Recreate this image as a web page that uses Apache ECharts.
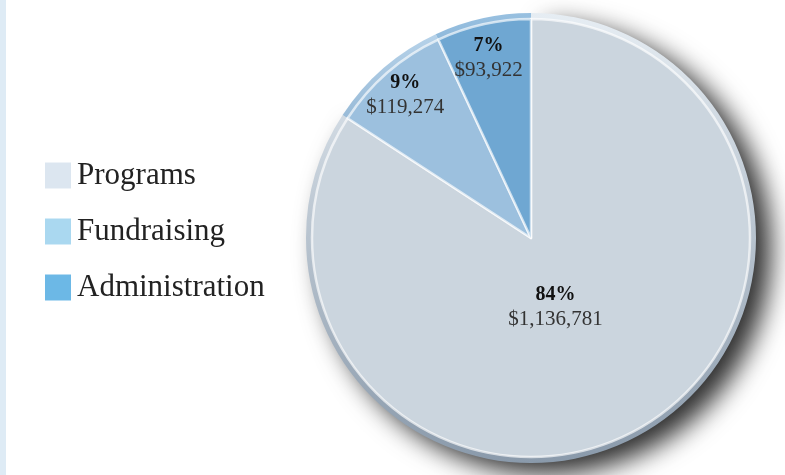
<!DOCTYPE html>
<html>
<head>
<meta charset="utf-8">
<script src="https://cdn.jsdelivr.net/npm/echarts@6/dist/echarts.min.js"></script>
<style>
html,body{margin:0;padding:0;background:#fff;}
#main{width:785px;height:475px;}
</style>
</head>
<body>
<div id="main"></div>
<script>
const categories = ['Programs', 'Fundraising', 'Administration'];
const amounts = [1136781, 119274, 93922];
const faceColors = ['#cbd5de', '#9cc0de', '#6fa7d2'];
const legendColors = ['#dce6f0', '#aad8f0', '#6cb8e6'];
const rimTop = ['#e6edf3', '#b6d2e9', '#98c0e0'];
const rimBottom = ['#8a9aab', '#6f9abf', '#4f88b8'];

const chart = echarts.init(document.getElementById('main'), null, {renderer: 'canvas'});

const labelShift = [[-29, -30], [-52, -58], [-18, -70]];
const C = [531, 238];

const option = {
  backgroundColor: '#ffffff',
  animation: false,
  graphic: [{
    type: 'rect', left: 0, top: 0,
    shape: {width: 6, height: 475},
    style: {fill: '#deebf5'}, silent: true
  }],
  legend: {
    orient: 'vertical',
    left: 40,
    top: 155,
    itemWidth: 26,
    itemHeight: 26,
    itemGap: 25,
    icon: 'rect',
    selectedMode: false,
    textStyle: {fontFamily: 'Liberation Serif', fontSize: 31, color: '#222', lineHeight: 26, padding: [0, 0, 0, 1]},
    data: categories.map((n, i) => ({name: n, itemStyle: {color: legendColors[i], borderWidth: 0}}))
  },
  series: [
    {
      type: 'pie',
      silent: true,
      center: C,
      radius: [0, 225],
      startAngle: 90,
      clockwise: true,
      label: {show: false},
      labelLine: {show: false},
      data: categories.map((n, i) => ({
        name: n, value: amounts[i],
        itemStyle: Object.assign({
          color: new echarts.graphic.LinearGradient(0, 0, 0, 1, [
            {offset: 0, color: rimTop[i]}, {offset: 1, color: rimBottom[i]}
          ]),
          borderWidth: 0
        }, i === 0 ? {shadowColor: 'rgba(30,30,30,0.92)', shadowBlur: 26, shadowOffsetX: 15, shadowOffsetY: 11} : {})
      }))
    },
    {
      type: 'pie',
      silent: true,
      center: C,
      radius: [0, 219],
      startAngle: 90,
      clockwise: true,
      itemStyle: {borderColor: 'rgba(255,255,255,0.65)', borderWidth: 2.5},
      label: {
        show: true,
        position: 'inside',
        formatter: p => '{p|' + Math.round(p.percent) + '%}\n{v|$' + p.value.toLocaleString('en-US') + '}',
        rich: {
          p: {fontFamily: 'Liberation Serif', fontWeight: 'bold', fontSize: 20, color: '#111', lineHeight: 25, align: 'center'},
          v: {fontFamily: 'Liberation Serif', fontSize: 21, color: '#333', lineHeight: 25, align: 'center'}
        }
      },
      labelLine: {show: false},
      labelLayout: function (params) {
        const s = labelShift[params.dataIndex];
        return {dx: s[0], dy: s[1]};
      },
      data: categories.map((n, i) => ({name: n, value: amounts[i], itemStyle: {color: faceColors[i]}}))
    }
  ]
};
chart.setOption(option);
</script>
</body>
</html>
